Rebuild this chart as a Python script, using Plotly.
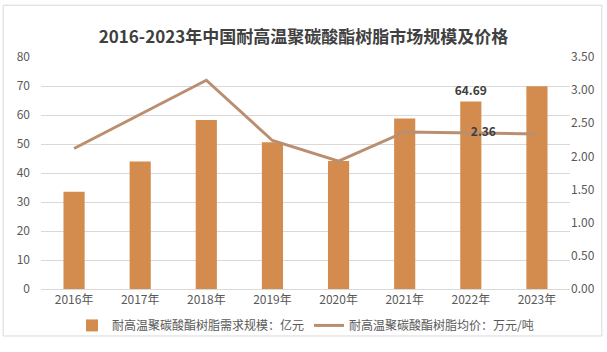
import plotly.graph_objects as go

years = ["2016年", "2017年", "2018年", "2019年", "2020年", "2021年", "2022年", "2023年"]
market_size = [33.5, 44.0, 58.3, 50.6, 44.1, 58.8, 64.69, 69.9]
avg_price = [2.12, 2.63, 3.15, 2.24, 1.93, 2.37, 2.36, 2.34]
size_labels = ["", "", "", "", "", "", "64.69", ""]
price_labels = ["", "", "", "", "", "", "2.36", ""]

bar_name = "耐高温聚碳酸酯树脂需求规模：亿元"
line_name = "耐高温聚碳酸酯树脂均价：万元/吨"
title = "2016-2023年中国耐高温聚碳酸酯树脂市场规模及价格"

FONT = "Noto Sans CJK SC"

fig = go.Figure()
fig.add_trace(go.Bar(
    x=years, y=market_size, name=bar_name,
    marker=dict(color="#D48C4E", line=dict(width=0)),
    text=size_labels, textposition="outside", cliponaxis=False, constraintext="none",
    textfont=dict(size=12, color="#404040", family=FONT, weight="bold"),
    yaxis="y",
))
fig.add_trace(go.Scatter(
    x=years, y=avg_price, name=line_name, mode="lines+text",
    line=dict(color="#BA8F70", width=3),
    text=price_labels, textposition="middle right",
    textfont=dict(size=12, color="#404040", family=FONT, weight="bold"),
    yaxis="y2", cliponaxis=False,
))

fig.update_layout(
    width=607, height=352,
    margin=dict(l=41, r=35, t=57, b=53),
    paper_bgcolor="white", plot_bgcolor="white",
    font=dict(family=FONT, size=12, color="#595959"),
    title=dict(text=title, x=0.5, xanchor="center", y=1 - 37 / 352, yanchor="middle",
               font=dict(size=17, color="#404040", family=FONT, weight="bold")),
    bargap=0.68,
    showlegend=True,
    legend=dict(orientation="h", x=0.5, xanchor="center", y=-0.157, yanchor="middle",
                font=dict(size=12, color="#595959", family=FONT),
                itemwidth=30, tracegroupgap=0, bgcolor="rgba(0,0,0,0)"),
    xaxis=dict(showgrid=False, showline=True, linecolor="#D9D9D9", linewidth=1,
               ticks="", tickfont=dict(size=12, color="#595959")),
    yaxis=dict(range=[0, 80], dtick=10, showgrid=True, gridcolor="#D9D9D9", gridwidth=1,
               zeroline=False, showline=False, ticks="", ticklabelstandoff=10,
               tickfont=dict(size=12, color="#595959")),
    yaxis2=dict(range=[0, 3.5], dtick=0.5, tickformat=".2f", overlaying="y", side="right",
                showgrid=False, zeroline=False, showline=False, ticks="",
                tickfont=dict(size=12, color="#595959")),
)

fig.add_shape(type="rect", xref="paper", yref="paper",
              x0=(3 - 41) / 531, x1=(604 - 41) / 531,
              y0=(299 - 348) / 242, y1=(299 - 3) / 242,
              line=dict(color="#D9D9D9", width=1), fillcolor="rgba(0,0,0,0)", layer="below")

fig.write_html("out.html")
